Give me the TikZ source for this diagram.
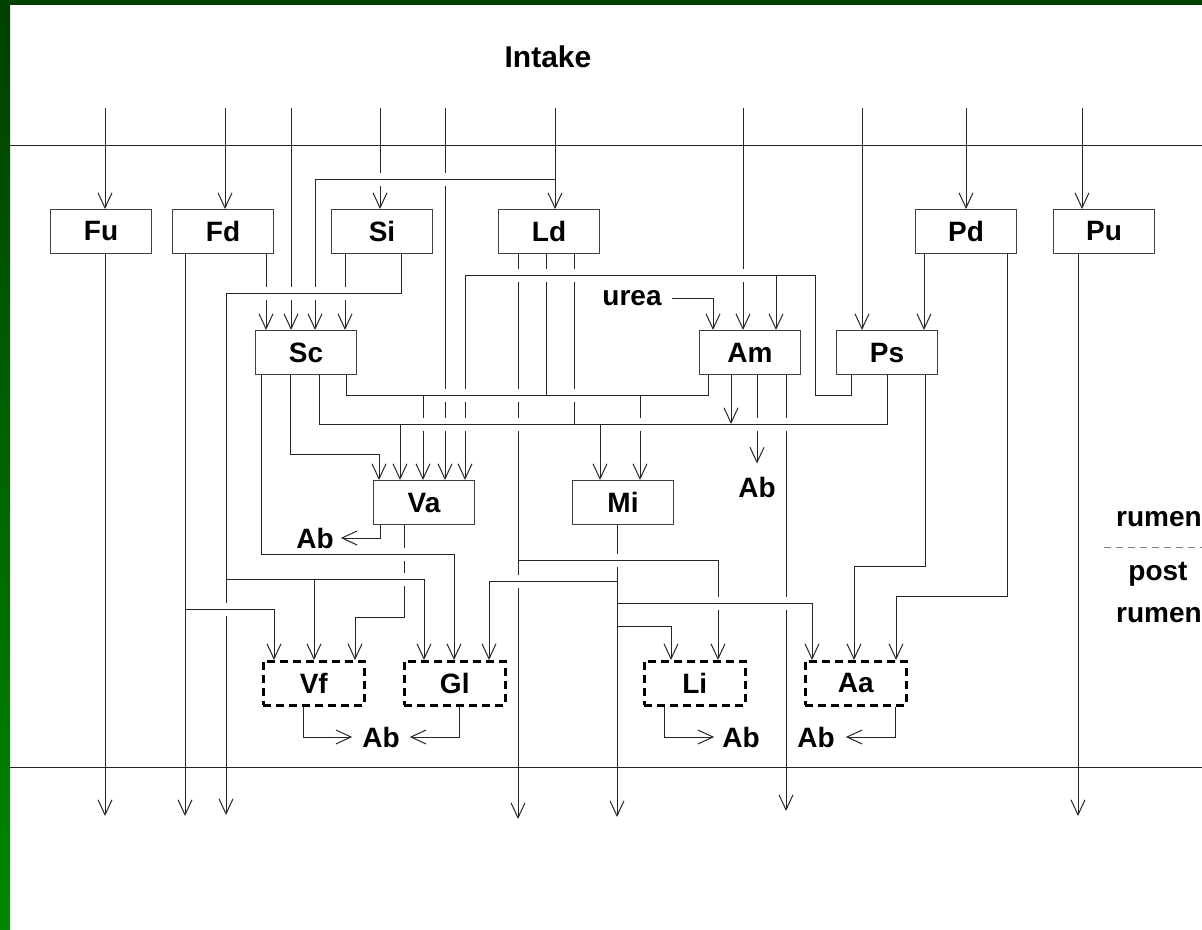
\documentclass[tikz,border=0pt]{standalone}
\usepackage{fontspec}
\setmainfont{Liberation Sans}
\usetikzlibrary{arrows.meta}
\definecolor{dgreen}{RGB}{0,64,0}
\definecolor{lgreen}{RGB}{0,136,0}
\begin{document}
\begin{tikzpicture}[x=1pt,y=-1pt,
  ln/.style={draw=black!85, line width=1pt},
  arr/.style={ln, -{Straight Barb[length=15pt,width=14pt]}},
  rarr/.style={ln, {Straight Barb[length=15pt,width=14pt]}-},
  box/.style={draw=black!75, line width=1pt, minimum width=101pt, minimum height=44pt, inner sep=0pt, anchor=north west, font=\fontsize{28}{30}\selectfont\bfseries},
  dbox/.style={box, draw=black, line width=2.5pt, dash pattern=on 8pt off 5pt},
  lbl/.style={inner sep=0pt, font=\fontsize{28}{30}\selectfont\bfseries}]
\useasboundingbox (0,0) rectangle (1202,929);
% background
\fill[white] (0,0) rectangle (1202,929);
\shade[top color=dgreen, bottom color=lgreen] (0,0) rectangle (10,929);
\fill[dgreen] (0,0) rectangle (1202,5);
% dividers
\draw[ln] (10,145) -- (1202,145);
\draw[ln] (10,767) -- (1202,767);
\node[lbl, font=\fontsize{30}{32}\selectfont\bfseries] (intake) at (548,57) {Intake};
% boxes
\node[box] (Fu) at (50,209) {Fu};
\node[box] (Fd) at (172,209) {Fd};
\node[box] (Si) at (331,209) {Si};
\node[box] (Ld) at (498,209) {Ld};
\node[box] (Pd) at (915,209) {Pd};
\node[box] (Pu) at (1053,209) {Pu};
\node[box] (Sc) at (255,330) {Sc};
\node[box] (Am) at (699,330) {Am};
\node[box] (Ps) at (836,330) {Ps};
\node[box] (Va) at (373,480) {Va};
\node[box] (Mi) at (572,480) {Mi};
\node[dbox] (Vf) at (262,660) {Vf};
\node[dbox] (Gl) at (403,660) {Gl};
\node[dbox] (Li) at (643,660) {Li};
\node[dbox] (Aa) at (804,660) {Aa};
% labels
\node[lbl] (urea) at (632,298) {urea};
\node[lbl] (AbAm) at (757,487) {Ab};
\node[lbl] (AbVa) at (315,538) {Ab};
\node[lbl] (AbVG) at (381,737) {Ab};
\node[lbl] (AbLi) at (741,737) {Ab};
\node[lbl] (AbAa) at (816,737) {Ab};
\node[lbl, anchor=base] (r1) at (1159,526) {rumen};
\node[lbl, anchor=base] (p1) at (1158,580) {post};
\node[lbl, anchor=base] (r2) at (1159,622) {rumen};
\coordinate (dl) at (1104,547);
\draw[draw=gray, line width=1pt, dash pattern=on 7pt off 5pt] (dl) -- (1202,547);
% intake flows
\draw[rarr] ([xshift=55pt]Fu.north west) -- ++(0,-101);
\draw[rarr] ([xshift=53pt]Fd.north west) -- ++(0,-101);
\draw[rarr] ([xshift=36pt]Sc.north west) -- ++(0,-222);
\draw[rarr] ([xshift=49pt]Si.north west) -- ++(0,-101);
\draw[rarr] ([xshift=72pt]Va.north west) -- ++(0,-372);
\draw[rarr] ([xshift=57pt]Ld.north west) -- ++(0,-101);
\draw[rarr] ([xshift=60pt]Sc.north west) |- ([xshift=57pt,yshift=30pt]Ld.north west);
\draw[rarr] ([xshift=44pt]Am.north west) -- ++(0,-222);
\draw[rarr] ([xshift=26pt]Ps.north west) -- ++(0,-222);
\draw[rarr] ([xshift=51pt]Pd.north west) -- ++(0,-101);
\draw[rarr] ([xshift=29pt]Pu.north west) -- ++(0,-101);
% first row outputs
\draw[arr] ([xshift=55pt]Fu.south west) -- ++(0,562);
\draw[arr] ([xshift=13pt]Fd.south west) -- ++(0,562);
\draw[arr] ([xshift=94pt]Fd.south west) -- ([xshift=11pt]Sc.north west);
\draw[arr] ([xshift=14pt]Si.south west) -- ([xshift=90pt]Sc.north west);
\draw[arr] ([xshift=70pt]Si.south west) |- (226,293) -- (226,815);
\draw[arr] (226,579) -| ([xshift=21pt]Gl.north west);
\draw[arr] (314,579) -- ([xshift=52pt]Vf.north west);
\draw[arr] (185,609) -| ([xshift=12pt]Vf.north west);
\draw[arr] ([xshift=20pt]Ld.south west) -- ++(0,565);
\draw[arr] (518,560) -| ([xshift=75pt]Li.north west);
\draw[ln] ([xshift=48pt]Ld.south west) -- (546,395);
\draw[ln] ([xshift=76pt]Ld.south west) -- (574,424);
\draw[arr] ([xshift=9pt]Pd.south west) -- ([xshift=88pt]Ps.north west);
\draw[arr] ([xshift=92pt]Pd.south west) |- (896,596) -| ([xshift=92pt]Aa.north west);
\draw[arr] ([xshift=25pt]Pu.south west) -- ++(0,562);
% Sc outputs
\draw[arr] ([xshift=6pt]Sc.south west) |- (454,554) -| ([xshift=51pt]Gl.north west);
\draw[arr] ([xshift=35pt]Sc.south west) |- (379,454) -| ([xshift=6pt]Va.north west);
\draw[ln] ([xshift=64pt]Sc.south west) |- (887,424) -- ([xshift=51pt]Ps.south west);
\draw[ln] ([xshift=91pt]Sc.south west) |- (708,395) -- ([xshift=9pt]Am.south west);
\draw[arr] (400,424) -- ([xshift=27pt]Va.north west);
\draw[arr] (423,395) -- ([xshift=50pt]Va.north west);
\draw[arr] (600,424) -- ([xshift=28pt]Mi.north west);
\draw[arr] (640,395) -- ([xshift=68pt]Mi.north west);
% Ps and Am
\draw[arr] ([xshift=15pt]Ps.south west) |- (815,395) |- (465,275) -- ([xshift=92pt]Va.north west);
\draw[arr] (776,275) -- ([xshift=77pt]Am.north west);
\draw[arr] ([xshift=10pt]urea.east) -| ([xshift=14pt]Am.north west);
\draw[arr] ([xshift=32pt]Am.south west) -- (731,424);
\draw[arr] ([xshift=58pt]Am.south west) -- ([yshift=13pt]AbAm.north);
\draw[arr] ([xshift=87pt]Am.south west) -- ++(0,436);
\draw[arr] ([xshift=89pt]Ps.south west) |- (854,566) -| ([xshift=50pt]Aa.north west);
% Va, Mi
\draw[arr] ([xshift=7pt]Va.south west) |- ([xshift=7pt]AbVa.east);
\draw[arr] ([xshift=31pt]Va.south west) |- (355,617) -| ([xshift=93pt]Vf.north west);
\draw[arr] ([xshift=45pt]Mi.south west) -- ++(0,292);
\draw[arr] (617,581) -| ([xshift=86pt]Gl.north west);
\draw[arr] (617,603) -| ([xshift=8pt]Aa.north west);
\draw[arr] (617,626) -| ([xshift=28pt]Li.north west);
% absorption from dashed boxes
\draw[arr] ([xshift=41pt]Vf.south west) |- ([xshift=-10pt]AbVG.west);
\draw[arr] ([xshift=56pt]Gl.south west) |- ([xshift=10pt]AbVG.east);
\draw[arr] ([xshift=21pt]Li.south west) |- ([xshift=-8pt]AbLi.west);
\draw[arr] ([xshift=91pt]Aa.south west) |- ([xshift=11pt]AbAa.east);
% line crossings (gaps in the vertical line)
\foreach \x/\y in {380/179, 445/179,
  518/275, 546/275, 574/275, 743/275,
  266/293, 291/293, 315/293, 345/293,
  445/395, 465/395, 518/395, 574/395,
  423/424, 445/424, 465/424, 518/424, 640/424, 757/424, 786/424,
  404/554, 617/560, 404/579, 518/581, 718/603, 786/603, 226/609} {
  \fill[white] (\x-2.5,\y-6.5) rectangle (\x+2.5,\y+6.5);
  \draw[ln] (\x-3.5,\y) -- (\x+3.5,\y);
}
\end{tikzpicture}
\end{document}
